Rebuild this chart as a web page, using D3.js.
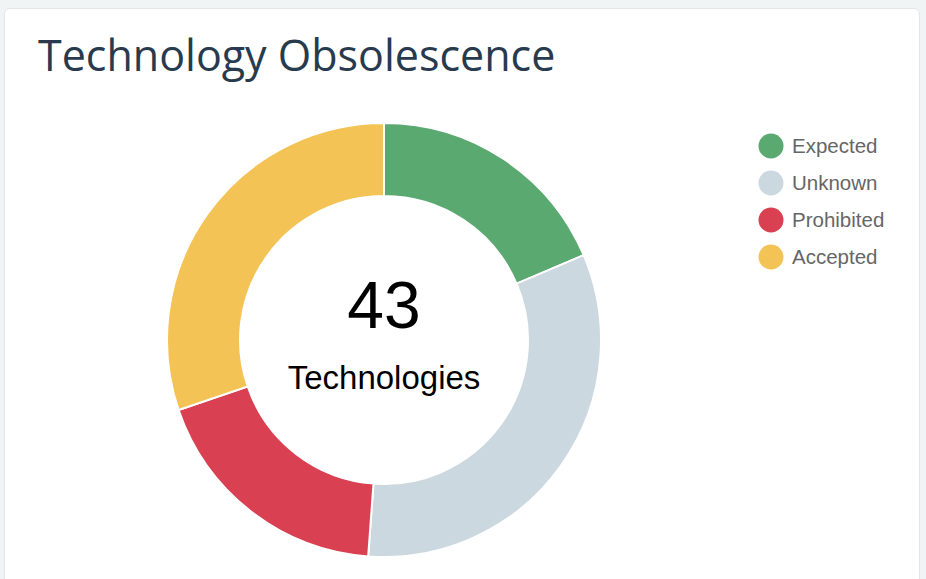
<!DOCTYPE html>
<html>
<head>
<meta charset="utf-8">
<script src="https://cdn.jsdelivr.net/npm/d3@7"></script>
<style>
    body { margin: 0; background: #f1f4f5; }
    #card {
        position: absolute; left: 4px; top: 8px; width: 916px; height: 590px;
        background: #fff; border: 1px solid #e2e6e8; border-radius: 6px;
        box-sizing: border-box;
    }
    #drawing_region { position: absolute; left: 0; top: 0; }
</style>
</head>
<body>
<div id="card"></div>
<svg id="drawing_region"></svg>
<script>
const categories = ['Expected', 'Unknown', 'Prohibited', 'Accepted'];
const counts = [8, 14, 8, 13];
const colors = ['#5aa971', '#ccd8e0', '#d94051', '#f4c356'];

const config = {
    width: 926,
    height: 579,
    cx: 384,
    cy: 340,
    outer: 217,
    inner: 144
};

const svg = d3.select('#drawing_region')
    .attr('width', config.width)
    .attr('height', config.height);

svg.append('text')
    .attr('x', 38)
    .attr('y', 71)
    .attr('font-family', '"Open Sans", sans-serif')
    .attr('font-size', '43px')
    .attr('fill', '#283a4e')
    .text('Technology Obsolescence');

const data = categories.map((c, i) => ({ name: c, value: counts[i], color: colors[i] }));

const pie = d3.pie().sort(null).value(d => d.value);
const arc = d3.arc().innerRadius(config.inner).outerRadius(config.outer);

const chart = svg.append('g')
    .attr('transform', `translate(${config.cx}, ${config.cy})`);

chart.selectAll('path')
    .data(pie(data))
    .enter()
    .append('path')
    .attr('d', arc)
    .attr('fill', d => d.data.color)
    .attr('stroke', '#fff')
    .attr('stroke-width', 2);

const total = d3.sum(counts);

chart.append('text')
    .attr('text-anchor', 'middle')
    .attr('y', -12)
    .attr('font-family', '"Liberation Sans", Arial, sans-serif')
    .attr('font-size', '66px')
    .attr('fill', '#000')
    .text(total);

chart.append('text')
    .attr('text-anchor', 'middle')
    .attr('y', 49)
    .attr('font-family', '"Liberation Sans", Arial, sans-serif')
    .attr('font-size', '33px')
    .attr('fill', '#000')
    .text('Technologies');

// legend
const legendY = d3.scalePoint().domain(categories).range([146, 257]);

const legend = svg.append('g');
const item = legend.selectAll('g')
    .data(data)
    .enter()
    .append('g')
    .attr('transform', d => `translate(771, ${legendY(d.name)})`);

item.append('circle')
    .attr('r', 12.5)
    .attr('fill', d => d.color);

item.append('text')
    .attr('x', 21)
    .attr('y', 7)
    .attr('font-family', '"Liberation Sans", Arial, sans-serif')
    .attr('font-size', '20.5px')
    .attr('fill', '#666')
    .text(d => d.name);
</script>
</body>
</html>
